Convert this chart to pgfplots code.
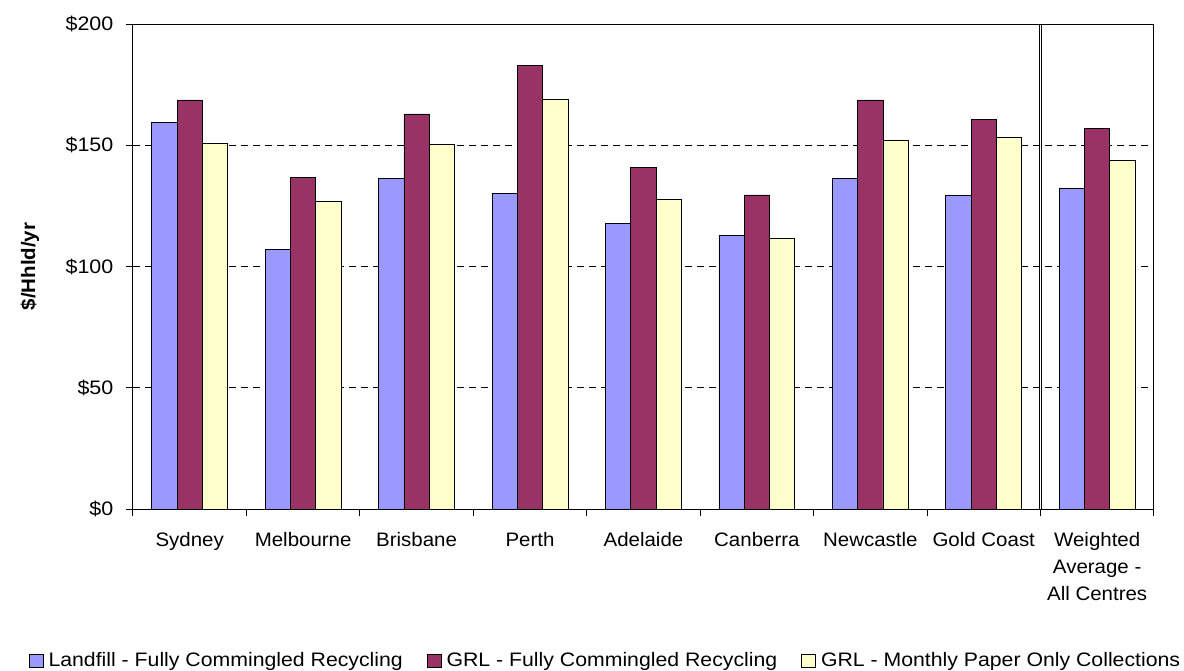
\documentclass[border=0pt]{standalone}
\usepackage{fontspec}
\setmainfont{Liberation Sans}[FakeStretch=1.05]
\newfontfamily\legendfont{Liberation Sans}[FakeStretch=1.09]
\newfontfamily\tickfont{Liberation Sans}[FakeStretch=1.1]
\usepackage{pgfplots}
\pgfplotsset{compat=1.18}
\definecolor{landfill}{HTML}{9999FF}
\definecolor{grlfull}{HTML}{993366}
\definecolor{grlpaper}{HTML}{FFFFCC}

\begin{document}
\fontsize{19.5}{27}\selectfont
\begin{tikzpicture}
\useasboundingbox (-133pt,-161pt) rectangle (1051pt,509pt);
\begin{axis}[
  at={(0,0)}, anchor=south west,
  scale only axis, width=1021pt, height=485pt,
  xmin=-0.5, xmax=8.5, ymin=0, ymax=200,
  ytick={0,50,...,200},
  yticklabel={\$\pgfmathprintnumber{\tick}},
  /pgf/number format/assume math mode=true,
  yticklabel style={xshift=-6pt, font=\tickfont},
  xtick={0,...,8},
  xticklabels={Sydney, Melbourne, Brisbane, Perth, Adelaide, Canberra,
    Newcastle, Gold Coast, {Weighted\\Average -\\All Centres}},
  xticklabel style={align=center, anchor=north, yshift=-10pt},
  minor xtick={-0.5,0.5,...,8.5},
  major x tick style={draw=none},
  tick align=outside, xtick pos=bottom, ytick pos=left,
  major tick length=7pt, minor tick length=7pt,
  tick style={black, line width=1pt},
  ymajorgrids,
  grid style={black, dash pattern=on 7pt off 5pt, line width=0.8pt},
  axis line style={black, line width=1pt},
  ylabel={\textbf{\$/Hhld/yr}},
  every axis y label/.style={at={(axis description cs:0,0.5)},
    xshift=-103pt, rotate=90, anchor=center},
  legend style={at={(axis description cs:0.4628,-0.313)}, anchor=center,
    draw=none, legend columns=3, legend cell align=left, font=\legendfont,
    /tikz/every even column/.append style={column sep=22pt}},
  legbox/.style={legend image code/.code={%
    \draw[##1,draw=black,line width=0.6pt] (0pt,-6.5pt) rectangle (14pt,6.5pt);
    \path (17pt,0pt);}},
  ybar, bar width=0.223,
]
\addplot[fill=landfill, draw=black, line width=0.8pt, bar shift=-0.223, legbox]
  coordinates {(0,159.3) (1,107.1) (2,136.3) (3,130.1) (4,117.9)
               (5,112.9) (6,136.3) (7,129.5) (8,132.4)};
\addplot[fill=grlfull, draw=black, line width=0.8pt, bar shift=0, legbox]
  coordinates {(0,168.7) (1,136.6) (2,162.9) (3,183.0) (4,140.7)
               (5,129.5) (6,168.7) (7,160.6) (8,157.0)};
\addplot[fill=grlpaper, draw=black, line width=0.8pt, bar shift=0.223, legbox]
  coordinates {(0,150.6) (1,126.9) (2,150.2) (3,169.1) (4,127.6)
               (5,111.4) (6,152.1) (7,153.3) (8,143.6)};
\legend{Landfill - Fully Commingled Recycling,
        GRL - Fully Commingled Recycling,
        GRL - Monthly Paper Only Collections}
% double rule setting the overall average apart from the cities
\draw[black, line width=1pt] ([xshift=-1.4pt]axis cs:7.5,0) -- ([xshift=-1.4pt]axis cs:7.5,200);
\draw[black, line width=1pt] ([xshift=1.4pt]axis cs:7.5,0) -- ([xshift=1.4pt]axis cs:7.5,200);
\end{axis}
\end{tikzpicture}
\end{document}
